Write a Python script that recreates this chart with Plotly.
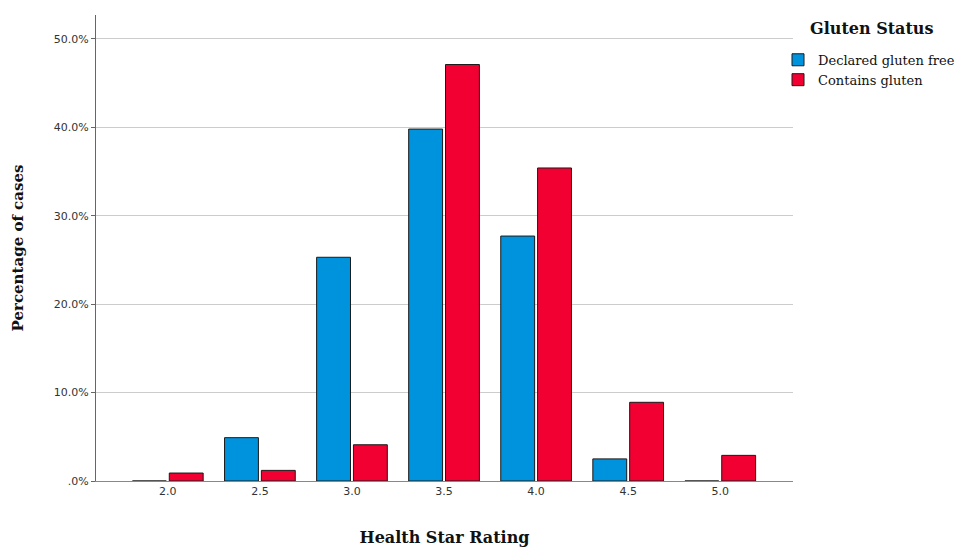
import plotly.graph_objects as go

categories = ["2.0", "2.5", "3.0", "3.5", "4.0", "4.5", "5.0"]
gluten_free = [0.0, 4.9, 25.3, 39.8, 27.7, 2.5, 0.0]
contains_gluten = [0.9, 1.2, 4.1, 47.1, 35.4, 8.9, 2.9]
y_ticks = [0, 10, 20, 30, 40, 50]
y_tick_labels = [".0%", "10.0%", "20.0%", "30.0%", "40.0%", "50.0%"]

fig = go.Figure()
fig.add_trace(go.Bar(
    x=categories, y=gluten_free, name="Declared gluten free",
    marker=dict(color="#0093DD", line=dict(color="#1a1a1a", width=1)),
))
fig.add_trace(go.Bar(
    x=categories, y=contains_gluten, name="Contains gluten",
    marker=dict(color="#F20032", line=dict(color="#1a1a1a", width=1)),
))

fig.add_annotation(
    text="<b>Gluten Status</b>", xref="paper", yref="paper",
    x=1.0215, y=0.972, xanchor="left", yanchor="middle", showarrow=False,
    font=dict(family="DejaVu Serif", size=16, color="#111111"),
)

fig.update_layout(
    width=957, height=548,
    margin=dict(l=96, r=164, t=15, b=67, autoexpand=False),
    paper_bgcolor="white", plot_bgcolor="white",
    barmode="group", bargap=0.2, bargroupgap=0.08,
    font=dict(family="DejaVu Sans", size=11, color="#333333"),
    legend=dict(
        font=dict(family="DejaVu Serif", size=13, color="#111111"),
        xref="paper", yref="paper",
        x=0.9785, xanchor="left", y=0.936, yanchor="top",
        bgcolor="rgba(0,0,0,0)", itemwidth=30,
    ),
    xaxis=dict(
        type="category", range=[-0.78, 6.79], automargin=False,
        showline=True, linecolor="#888888", linewidth=1,
        showgrid=False, ticks="",
        tickfont=dict(family="DejaVu Sans", size=11, color="#333333"),
        title=dict(text="<b>Health Star Rating</b>", font=dict(family="DejaVu Serif", size=16, color="#111111"), standoff=34),
    ),
    yaxis=dict(
        range=[0, 52.7], tickvals=y_ticks, ticktext=y_tick_labels, automargin=False,
        showline=True, linecolor="#666666", linewidth=1,
        showgrid=True, gridcolor="#cccccc", gridwidth=1,
        ticks="outside", ticklen=4, tickcolor="#666666",
        zeroline=False,
        tickfont=dict(family="DejaVu Sans", size=11, color="#333333"),
        title=dict(text="<b>Percentage of cases</b>", font=dict(family="DejaVu Serif", size=15, color="#111111"), standoff=26),
    ),
)

fig.write_html("out.html", config={"displayModeBar": False},
               post_script="document.body.style.margin='0';")
